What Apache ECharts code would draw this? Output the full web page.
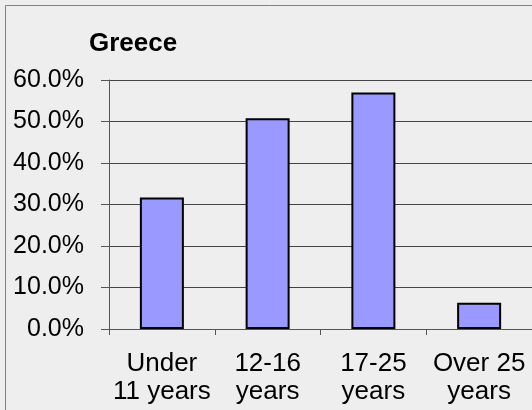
<!DOCTYPE html>
<html>
<head>
<meta charset="utf-8">
<script src="https://cdn.jsdelivr.net/npm/echarts@6/dist/echarts.min.js"></script>
<style>
  html, body { margin: 0; padding: 0; background: #eeeeee; }
  #chart { width: 532px; height: 410px; }
</style>
</head>
<body>
<div id="chart"></div>
<script>
// Age groups and share of respondents (percent)
const categories = ['Under\n11 years', '12-16\nyears', '17-25\nyears', 'Over 25\nyears'];
const shares = [31.7, 50.8, 57.0, 6.3];
const yTicks = [0, 10, 20, 30, 40, 50, 60];

const chart = echarts.init(document.getElementById('chart'), null, { renderer: 'canvas' });

chart.setOption({
  backgroundColor: '#eeeeee',
  animation: false,
  title: {
    text: 'Greece',
    left: 84,
    top: 26,
    textStyle: {
      fontFamily: 'Liberation Sans, Arial, sans-serif',
      fontSize: 26,
      fontWeight: 'bold',
      color: '#000'
    }
  },
  graphic: [{
    type: 'rect',
    shape: { x: 5.5, y: 5.5, width: 540, height: 420 },
    style: { fill: 'none', stroke: '#808080', lineWidth: 1 },
    silent: true
  }],
  grid: { left: 109, right: -5, top: 80, bottom: 81, containLabel: false },
  xAxis: {
    type: 'category',
    data: categories,
    axisLine: { show: true, lineStyle: { color: '#555', width: 1 } },
    axisTick: { show: true, length: 6, alignWithLabel: false, lineStyle: { color: '#555' } },
    axisLabel: {
      interval: 0,
      margin: 21,
      fontFamily: 'Liberation Sans, Arial, sans-serif',
      fontSize: 26,
      lineHeight: 28,
      color: '#000'
    }
  },
  yAxis: {
    type: 'value',
    min: yTicks[0],
    max: yTicks[yTicks.length - 1],
    interval: 10,
    axisLine: { show: true, lineStyle: { color: '#555', width: 1 } },
    axisTick: { show: true, length: 8, lineStyle: { color: '#555' } },
    splitLine: { show: true, lineStyle: { color: '#444', width: 1 } },
    axisLabel: {
      margin: 25,
      fontFamily: 'Liberation Sans, Arial, sans-serif',
      fontSize: 25,
      color: '#000',
      formatter: v => v.toFixed(1) + '%'
    }
  },
  series: [{
    type: 'bar',
    data: shares,
    barWidth: 44,
    itemStyle: { color: '#9999ff', borderColor: '#000', borderWidth: 2 }
  }]
});
</script>
</body>
</html>
